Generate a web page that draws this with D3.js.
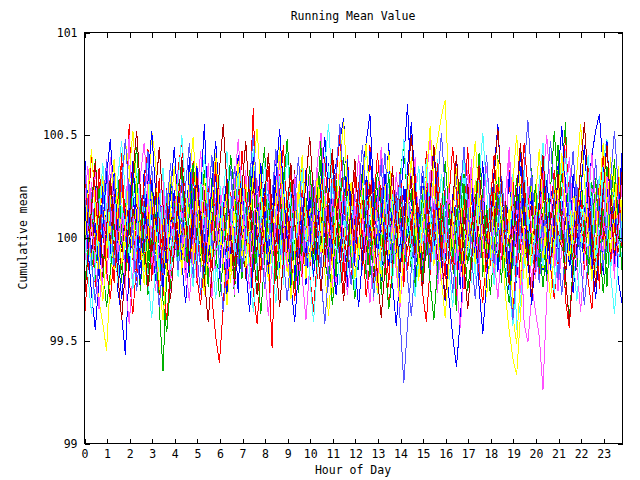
<!DOCTYPE html>
<html><head><meta charset="utf-8">
<script src="https://cdn.jsdelivr.net/npm/d3@7"></script>
<style>
body{margin:0;background:#fff}
text{font-family:"DejaVu Sans Mono",monospace;font-size:11.5px;fill:#000}
</style>
</head><body><svg id="c" width="640" height="480"></svg>
<script>
const title = "Running Mean Value";
const xLabel = "Hour of Day";
const yLabel = "Cumulative mean";
const xTicks = [0,1,2,3,4,5,6,7,8,9,10,11,12,13,14,15,16,17,18,19,20,21,22,23];
const yTicks = [99, 99.5, 100, 100.5, 101];
const yTickLabels = ["99", "99.5", "100", "100.5", "101"];
const xMax = 23 + 50/60;   // last sample at 23:50
const sampleMinutes = 10;

const s01 = [100.21,99.88,100.05,99.76,100.34,100.12,99.91,100.28,99.83,100.02,100.41,99.95,
100.55,100.08,99.79,100.19,99.87,100.30,99.98,100.11,99.72,100.06,100.24,99.89,
100.15,99.81,100.33,100.03,99.92,100.17,99.78,100.26,99.94,100.09,99.85,100.38,
99.99,100.13,99.74,100.22,100.01,99.86,100.29,99.97,100.18,100.63,100.04,99.82,
100.25,99.90,99.46,100.07,100.31,99.96,100.14,99.77,100.20,99.93,100.36,100.00,
99.84,100.16,99.80,100.27,100.05,99.88,100.40,99.95,100.10,99.73,100.23,99.98,
100.32,99.87,100.12,99.91,100.45,100.02,99.79,100.19,99.86,100.08,100.35,99.94,
100.21,99.76,100.13,99.99,100.28,99.83,100.06,100.42,99.90,100.17,99.81,100.03,
100.24,99.97,100.11,99.69,100.30,100.04,99.88,100.20,99.92,100.37,99.85,100.09,
100.15,99.78,100.26,99.95,100.01,100.33,99.87,100.14,99.74,100.22,100.07,99.93,
100.18,99.82,100.39,100.00,99.89,100.25,99.96,100.12,99.80,100.29,100.05,99.91,
100.16,99.84,100.34,99.98,100.10,99.75,100.21,100.03,99.94,100.27,99.86,100.08];
const s02 = [100.02,100.18,99.85,99.97,100.26,99.80,100.09,99.93,100.31,100.04,99.78,100.14,
99.91,100.22,100.00,99.74,100.12,99.88,100.27,99.96,99.66,99.35,99.83,100.07,
100.19,99.90,100.35,99.99,99.81,100.24,100.06,99.87,100.16,99.76,100.29,99.95,
100.10,99.84,100.21,100.03,99.71,100.17,99.92,100.30,99.98,100.08,99.79,100.25,
100.44,99.97,100.13,99.86,100.05,100.32,99.89,100.20,99.75,100.01,100.15,99.82,
100.23,99.94,100.07,100.38,99.90,99.77,100.11,100.28,99.96,100.04,99.85,100.19,
99.93,100.12,100.33,99.80,100.09,99.95,100.24,99.72,100.02,100.17,99.88,100.06,
100.27,99.91,100.14,99.83,100.36,100.00,99.78,100.21,99.97,100.10,100.30,99.86,
100.05,100.22,99.92,99.64,100.13,100.31,99.87,100.08,99.99,100.25,99.81,100.16,
99.94,100.11,100.40,99.90,100.03,99.76,100.18,99.98,100.26,99.85,100.07,100.34,
99.89,100.15,100.01,99.79,100.23,99.93,100.09,100.32,100.56,99.96,100.12,99.84,
100.20,99.91,100.05,100.27,99.82,100.14,99.97,100.35,100.02,99.88,100.18,99.95];
const s03 = [100.38,100.12,99.90,100.25,99.81,100.07,100.30,99.95,100.16,99.74,99.62,99.43,
99.85,100.20,100.03,99.88,100.33,99.97,100.11,99.79,100.24,100.06,99.92,100.28,
100.01,99.86,100.17,99.94,100.39,100.10,99.83,100.22,100.55,100.08,99.91,100.19,
99.80,100.14,100.29,99.96,100.05,99.73,100.21,100.02,99.89,100.35,99.98,100.12,
100.26,99.87,100.09,100.42,99.95,100.18,99.84,100.04,100.31,99.90,100.13,99.77,
100.07,100.24,99.93,100.15,99.82,100.36,100.00,99.88,100.20,100.10,99.76,100.27,
99.97,100.11,99.85,100.30,100.05,99.91,100.23,99.79,100.14,100.46,100.02,99.89,
100.17,100.38,100.65,100.20,99.94,100.08,99.81,100.26,100.03,99.92,100.33,99.99,
100.12,99.86,100.21,100.04,99.75,100.15,99.97,100.29,99.88,100.10,100.37,99.93,
100.06,100.25,99.83,100.13,99.96,100.32,100.01,99.78,100.19,99.90,100.07,100.24,
99.95,100.14,99.84,100.28,100.09,99.91,100.35,100.02,99.80,100.16,99.98,100.22,
100.04,99.87,100.30,100.11,99.93,100.19,99.82,100.26,100.00,99.89,100.13,100.41];
const s04 = [99.83,100.06,100.27,99.92,100.14,99.77,100.38,100.01,99.88,100.20,99.95,100.09,
100.46,100.12,99.85,100.24,99.98,100.31,99.81,100.04,100.17,99.90,100.10,99.74,
100.22,99.96,100.13,99.87,100.29,100.02,99.79,100.18,99.93,100.36,100.07,99.84,
100.11,100.25,99.91,100.05,99.72,100.19,99.99,100.33,99.86,100.08,100.15,99.94,
100.03,99.80,100.21,100.40,99.97,100.12,99.89,100.26,100.06,99.75,100.16,99.92,
100.30,100.00,99.83,100.14,100.23,99.90,100.09,99.78,100.35,99.96,100.11,100.04,
99.87,100.18,100.01,99.93,100.27,99.69,100.13,100.05,99.82,100.21,99.98,100.32,
100.08,99.88,100.17,99.95,100.39,100.03,99.86,100.24,99.91,100.10,99.73,100.19,
100.02,100.28,99.94,100.12,99.81,100.06,100.33,99.97,100.15,99.85,100.22,99.90,
100.14,99.79,100.07,100.25,99.92,100.44,100.00,99.84,100.18,99.96,100.09,99.77,
99.64,99.52,99.26,99.71,100.05,99.88,100.21,100.03,99.93,100.30,99.82,100.12,
99.99,100.17,99.87,100.24,100.06,99.91,100.36,99.95,100.11,99.80,100.20,100.02];
const s05 = [99.72,99.94,100.17,99.86,100.08,100.29,99.91,100.03,99.80,100.22,100.11,99.89,
100.15,99.97,100.34,100.06,99.83,100.19,99.95,100.10,100.27,99.78,100.04,100.16,
99.92,100.25,100.01,99.85,100.13,100.37,99.96,100.09,99.82,100.20,99.98,100.07,
100.31,99.90,100.14,100.02,99.76,100.23,100.05,99.93,100.18,100.43,99.99,100.12,
99.87,100.21,99.95,100.08,100.30,99.81,100.15,99.97,100.26,100.03,99.89,100.17,
100.06,99.79,100.24,100.00,99.92,100.35,100.10,99.84,100.13,99.96,100.28,100.04,
99.94,100.16,99.88,100.22,100.07,99.75,100.19,100.01,99.90,100.32,99.98,100.11,
100.27,99.86,100.09,99.97,100.14,99.80,100.23,100.05,99.93,100.17,100.38,99.91,
100.02,100.20,99.84,100.13,99.95,100.29,100.06,99.78,100.18,99.99,100.10,99.87,
100.24,100.04,99.92,100.15,99.70,100.08,100.31,99.96,100.12,99.85,100.21,100.00,
99.89,100.16,100.03,99.94,100.26,99.82,100.11,100.36,99.97,100.07,99.79,100.19,
100.05,99.93,100.22,99.86,100.14,100.30,99.98,100.09,99.83,100.25,100.01,99.90];
const s06 = [100.28,100.10,99.87,100.04,99.69,99.58,99.45,99.80,100.12,99.95,100.21,100.47,
100.33,100.06,99.91,100.18,99.84,100.25,100.00,99.93,100.14,99.77,100.09,100.30,
99.96,100.11,99.82,100.20,100.03,99.89,100.36,99.98,100.15,99.85,100.07,100.24,
99.92,100.13,100.01,99.78,100.27,99.94,100.08,100.19,99.86,100.32,99.99,100.05,
100.22,99.88,100.16,99.97,100.41,100.02,99.83,100.12,99.91,100.26,100.06,99.80,
100.17,99.95,100.09,100.29,99.87,100.04,99.73,100.20,99.98,100.13,100.34,99.90,
100.03,100.23,99.85,100.10,99.96,100.18,100.00,99.81,100.27,99.93,100.06,100.15,
99.88,100.12,100.30,99.97,100.05,99.79,100.21,100.08,99.92,100.37,100.48,100.59,
100.67,100.24,99.94,100.11,99.86,100.19,100.02,99.90,100.28,99.98,100.07,99.84,
100.16,99.93,100.22,100.04,99.72,99.55,99.41,99.33,99.62,99.88,100.09,100.25,
99.97,100.13,99.85,100.20,100.06,99.91,100.33,100.01,99.87,100.17,99.95,100.10,
100.27,99.89,100.04,100.15,99.82,100.21,99.99,100.12,100.39,99.94,100.07,100.18];
const s07 = [100.09,99.90,100.22,100.01,99.84,100.16,99.97,100.31,100.05,99.88,100.13,99.79,
100.26,100.04,99.93,100.19,99.86,100.10,100.35,99.98,100.07,99.82,100.23,100.00,
99.91,100.14,100.28,99.95,100.06,99.77,100.18,100.02,99.89,100.25,99.96,100.11,
100.03,99.85,100.20,100.09,99.94,100.33,99.81,100.15,100.00,99.92,100.27,100.06,
99.97,100.17,99.88,100.04,100.24,99.90,100.12,99.83,100.30,100.01,99.95,100.19,
100.08,99.93,100.26,99.99,100.14,99.76,100.05,100.21,99.89,100.11,100.36,99.96,
100.02,100.18,99.84,100.07,99.97,100.29,100.03,99.87,100.16,99.94,100.09,100.22,
99.61,99.29,99.58,99.85,100.12,99.98,100.25,100.04,99.91,100.17,99.80,100.06,
100.19,99.95,100.10,100.32,99.88,100.03,99.93,100.21,100.07,99.82,100.14,99.99,
100.08,100.26,99.90,100.13,100.00,99.86,100.23,99.97,100.11,100.34,99.92,100.05,
99.84,100.15,100.02,99.94,100.20,100.09,99.78,100.16,99.96,100.28,100.04,99.89,
100.12,99.98,100.24,100.06,99.87,100.19,100.01,99.93,100.30,100.08,99.85,100.14];
const s08 = [99.88,100.14,100.02,99.93,100.24,99.81,100.10,100.29,99.96,100.05,99.84,100.18,
100.07,99.91,100.20,100.00,99.87,100.13,99.79,100.26,100.03,99.95,100.16,99.90,
100.11,100.31,99.94,100.06,99.83,100.19,100.01,99.92,100.23,99.86,100.09,100.15,
99.98,100.04,100.27,99.89,100.12,99.95,100.07,99.80,100.21,100.02,99.93,100.17,
100.10,99.85,100.03,100.25,99.97,100.14,99.90,100.08,100.33,99.94,100.00,99.87,
100.19,100.05,99.92,100.12,99.84,100.22,100.01,99.96,100.15,99.88,100.28,100.04,
99.95,100.09,100.18,99.91,100.03,99.78,100.13,100.24,99.99,100.06,99.86,100.20,
100.02,99.93,100.11,100.30,99.97,100.08,99.89,100.16,100.04,99.92,100.23,99.98,
100.07,100.19,99.88,100.01,100.14,99.95,100.26,100.03,99.85,100.10,99.96,100.12,
99.90,100.05,100.21,99.97,100.09,99.83,100.17,100.00,99.94,100.27,100.06,99.91,
100.13,99.99,100.08,99.87,100.22,100.04,99.93,100.15,99.81,100.11,100.02,99.95,
100.18,99.92,100.06,100.01,99.86,100.24,99.98,100.10,99.90,100.14,100.03,99.88];
const s09 = [99.58,99.82,100.11,99.95,100.27,100.03,99.86,100.19,99.78,100.08,100.32,99.97,
100.13,99.89,100.06,100.24,99.92,100.15,99.80,100.01,100.29,99.94,100.10,99.85,
100.20,100.04,99.90,100.16,99.99,100.37,99.87,100.07,99.93,100.22,99.71,99.52,
99.39,99.66,99.98,100.12,99.88,100.25,100.03,99.95,100.18,99.84,100.09,100.30,
99.96,100.14,100.01,99.81,100.21,99.93,100.06,100.35,99.90,100.11,99.79,100.17,
100.04,99.92,100.26,100.08,99.86,100.13,99.97,100.22,100.02,99.83,100.40,100.09,
99.91,100.16,99.99,100.27,99.85,100.05,100.19,99.94,100.10,99.76,100.23,100.01,
100.14,99.87,100.06,99.96,100.31,100.03,99.90,100.17,99.82,100.08,100.25,99.95,
100.11,100.00,99.84,100.20,99.93,100.13,100.44,100.05,99.89,100.16,99.97,100.07,
99.86,100.22,100.02,99.92,100.15,99.80,100.28,100.04,99.95,100.12,99.88,100.19,
100.06,99.91,100.24,99.98,100.09,100.33,99.87,100.14,99.69,99.56,99.85,100.03,
100.21,99.94,100.11,99.83,100.07,100.26,99.99,100.16,99.90,100.04,100.30,99.96];
const s10 = [100.05,99.91,100.13,99.80,100.24,100.02,99.94,100.17,99.87,100.09,99.98,100.21,
99.88,100.07,100.30,99.93,100.15,99.82,100.04,100.19,99.96,100.11,99.78,100.26,
100.01,99.89,100.16,100.06,99.84,100.22,99.97,100.10,100.33,99.92,100.04,99.86,
100.18,100.00,99.90,100.13,99.79,100.27,100.05,99.95,100.12,99.83,100.21,100.02,
99.93,100.16,100.07,99.85,100.20,99.98,100.11,99.74,100.24,100.03,99.91,100.14,
100.06,99.87,100.19,100.47,100.08,99.94,100.17,99.81,100.05,100.22,99.96,100.10,
99.99,100.25,99.89,100.12,100.01,99.83,100.18,99.95,100.09,100.31,99.92,100.04,
100.15,99.86,100.07,100.23,99.97,100.12,99.80,100.03,100.19,99.90,100.10,99.98,
100.21,100.05,99.93,100.14,99.87,100.26,100.00,99.84,100.11,99.96,100.17,100.06,
99.91,100.13,100.02,99.78,100.20,99.95,100.08,100.29,99.88,100.04,99.97,100.15,
100.09,99.85,100.24,100.01,99.93,100.16,100.45,100.12,99.90,100.06,99.82,100.19,
99.97,100.10,99.87,100.22,100.03,99.92,100.14,99.76,100.08,100.27,99.94,100.05];
const s11 = [100.44,100.18,99.93,100.07,99.82,100.25,100.01,99.89,100.32,100.06,99.95,100.14,
99.86,100.21,100.03,99.77,100.12,99.98,100.28,100.09,99.90,100.17,99.84,100.05,
100.23,99.96,100.11,99.80,100.36,100.04,99.92,100.19,100.00,99.87,100.14,100.30,
99.94,100.08,99.83,100.20,100.02,99.91,100.26,99.97,100.13,100.39,100.05,99.88,
100.16,99.93,100.10,100.29,99.85,100.07,99.99,100.22,99.79,100.12,100.03,99.92,
100.19,100.06,99.88,100.15,100.01,99.90,100.27,100.36,100.47,100.58,100.24,99.97,
100.09,99.84,100.33,100.46,100.60,100.21,99.95,100.12,100.03,99.86,100.18,100.07,
99.93,100.25,100.00,100.14,99.81,100.09,100.30,99.96,100.11,99.89,100.20,100.02,
99.92,99.71,99.52,99.37,99.60,99.88,100.13,100.04,99.91,100.23,100.06,99.85,
100.17,100.00,99.94,100.28,100.08,99.87,100.15,99.98,100.35,100.03,99.90,100.21,
100.05,99.95,100.12,99.82,100.26,100.01,99.93,100.18,100.09,99.86,100.31,100.04,
99.96,100.14,100.25,100.40,100.52,100.60,100.33,100.07,99.89,100.16,99.79,99.68];
const s12 = [100.20,99.86,100.09,100.36,99.97,100.13,99.80,100.04,100.24,99.91,100.15,99.99,
100.50,100.11,99.88,100.06,99.93,100.21,100.02,99.84,100.17,100.31,99.95,100.08,
99.90,100.14,100.03,99.79,100.22,99.96,100.10,100.27,99.87,100.05,99.98,100.19,
100.01,99.85,100.16,100.07,99.92,100.30,99.99,100.12,99.82,100.24,100.04,99.94,
100.13,100.28,99.89,100.06,100.18,99.83,100.02,99.96,100.21,100.09,99.87,100.15,
99.98,100.11,100.34,99.92,100.05,99.80,100.19,100.00,99.91,100.26,100.08,99.85,
100.16,99.97,100.10,99.88,100.23,100.03,99.76,100.14,99.94,100.07,100.29,99.99,
100.04,99.90,100.20,100.12,99.86,100.02,100.17,99.95,100.33,100.06,99.89,100.11,
99.93,100.24,100.01,99.84,100.15,99.98,100.09,100.38,99.92,100.13,100.03,99.81,
100.19,100.05,99.90,100.22,99.97,100.11,99.87,100.16,100.04,99.58,99.49,99.72,
100.08,100.27,99.94,100.12,100.00,99.85,100.20,99.96,100.43,100.10,99.91,100.15,
99.99,100.06,100.32,99.88,100.14,100.02,99.93,100.19,100.07,99.83,100.25,100.01];
const s13 = [100.12,100.00,99.84,100.21,99.95,100.08,100.27,99.89,100.03,99.78,100.16,100.05,
99.92,100.23,100.10,99.87,100.14,100.39,99.96,100.06,99.83,100.18,100.01,99.94,
100.09,99.81,100.20,100.02,99.93,100.15,99.86,100.26,100.04,99.97,100.12,99.79,
100.24,100.07,99.90,100.13,99.98,100.31,100.02,99.85,100.17,99.93,100.08,100.20,
99.88,100.04,100.15,99.96,100.10,99.77,100.22,100.06,99.91,100.18,100.40,99.99,
100.11,99.94,100.05,100.23,99.86,100.14,100.01,99.92,100.28,100.09,99.82,100.16,
100.03,100.19,99.89,100.07,100.25,99.95,100.12,99.84,100.06,99.99,100.21,100.10,
99.90,100.14,100.04,99.87,100.18,100.35,99.97,100.08,100.22,99.93,100.01,100.13,
99.85,100.06,100.17,99.98,100.27,100.03,99.91,100.12,99.80,100.15,100.05,99.94,
100.21,99.97,100.09,100.30,99.89,100.02,100.16,99.55,99.68,99.92,100.10,100.04,
99.96,100.13,99.86,100.07,100.24,99.93,100.11,100.00,99.88,100.19,100.06,99.98,
100.15,100.02,99.91,100.20,99.84,100.08,100.37,100.48,100.12,99.95,100.09,99.87];
const s14 = [99.96,100.18,100.05,99.88,100.11,100.30,99.93,100.07,99.84,100.20,100.02,99.95,
100.14,99.90,100.22,100.03,99.86,100.16,100.52,100.38,99.99,100.09,99.81,100.13,
100.06,100.25,99.92,100.01,100.17,99.87,100.10,99.97,100.29,100.04,99.89,100.15,
99.94,100.08,100.21,99.83,100.12,100.00,99.91,100.26,100.05,99.96,100.14,99.86,
100.19,100.03,99.95,100.11,99.80,100.24,100.07,99.92,100.16,99.98,100.33,100.02,
99.87,100.13,100.04,99.93,100.20,100.09,99.85,100.17,100.01,99.94,100.12,100.27,
100.00,99.89,100.15,100.06,99.82,100.22,99.97,100.10,100.31,99.91,100.05,99.84,
100.18,100.02,99.93,100.13,100.07,99.88,100.24,99.99,100.11,99.86,100.19,100.04,
99.95,100.16,100.08,99.90,100.21,99.98,100.12,100.03,99.87,100.26,100.06,99.92,
100.11,99.85,100.19,100.01,99.94,100.14,99.62,99.48,99.80,100.07,100.23,99.97,
100.05,100.17,99.90,100.09,99.83,100.28,100.02,99.96,100.13,99.89,100.20,100.06,
99.98,100.12,100.03,99.91,100.22,100.08,99.85,100.16,100.00,100.34,99.93,100.10];
const s15 = [100.27,99.97,100.10,99.85,100.19,100.04,99.92,100.13,100.30,99.88,100.06,99.98,
100.15,100.03,99.81,100.22,99.95,100.09,100.01,99.87,100.18,100.06,99.93,100.24,
99.99,100.12,100.05,99.90,100.28,99.96,100.14,99.83,100.07,100.21,99.94,100.02,
100.17,99.92,100.08,100.35,100.00,99.86,100.20,100.05,99.97,100.13,99.84,100.10,
100.01,100.23,99.94,100.07,99.89,100.16,100.03,99.98,100.25,99.91,100.12,100.04,
99.93,100.18,100.06,99.85,100.14,99.99,100.29,100.02,99.90,100.11,100.05,99.96,
100.21,100.08,99.88,100.16,100.00,99.93,100.12,100.38,99.97,100.04,99.83,100.19,
100.06,99.95,100.24,100.02,99.87,100.14,100.09,99.91,100.20,99.99,100.11,99.86,
100.13,100.01,99.92,100.18,100.05,99.81,100.15,99.98,100.08,100.27,99.94,100.03,
99.89,100.12,100.22,99.96,100.07,100.01,99.85,100.19,100.04,99.93,100.16,100.32,
100.02,99.90,100.11,100.05,99.97,100.21,99.88,100.09,100.14,99.95,100.03,100.26,
99.92,100.17,100.04,99.86,100.13,100.00,100.25,99.94,100.08,100.18,99.97,100.06];
const s16 = [100.00,100.09,99.91,100.16,100.04,99.87,100.12,99.97,100.21,100.02,99.93,100.06,
99.96,100.14,100.05,99.89,100.19,100.01,99.92,100.10,100.03,99.85,100.17,100.08,
100.11,99.94,100.02,100.20,99.90,100.07,99.98,100.13,99.88,100.04,100.24,99.95,
100.06,100.15,99.93,100.03,99.86,100.18,100.01,99.96,100.10,100.27,99.99,100.05,
99.91,100.12,100.04,99.97,100.22,100.00,99.89,100.14,100.06,99.94,100.09,100.17,
100.03,99.92,100.11,100.02,99.84,100.16,100.07,99.98,100.25,100.01,99.90,100.12,
99.97,100.08,100.19,99.93,100.05,99.99,100.14,100.03,99.87,100.11,100.06,99.95,
100.20,100.01,99.94,100.09,99.91,100.15,100.04,100.23,99.96,100.07,99.89,100.12,
100.02,99.95,100.17,100.06,99.92,100.10,99.98,100.04,100.21,99.88,100.13,100.00,
100.08,100.14,99.90,100.03,100.18,99.97,100.06,99.93,100.11,100.02,99.86,100.16,
99.99,100.05,100.12,99.94,100.08,100.19,100.01,99.95,100.10,100.04,99.91,100.13,
100.06,99.98,100.15,100.02,99.89,100.11,100.05,99.96,100.20,100.07,99.93,100.03];
const s17 = [100.31,100.12,100.40,100.22,99.98,100.15,99.84,99.70,99.92,100.18,100.36,100.08,
99.79,99.63,99.88,100.05,100.28,100.43,100.17,99.94,100.11,99.76,99.60,99.85,
100.09,100.33,100.47,100.21,99.97,100.14,99.81,99.67,99.90,100.24,100.02,100.38,
100.16,99.89,99.72,99.95,100.26,100.07,100.42,100.19,99.93,99.74,99.58,99.83,
100.12,100.35,100.04,99.86,100.21,100.45,100.13,99.91,99.69,99.97,100.23,100.06,
99.82,99.64,99.90,100.17,100.39,100.10,99.87,100.29,100.50,100.20,99.96,99.78,
100.03,100.27,99.99,99.71,99.88,100.14,100.41,100.18,99.92,99.66,99.85,100.08,
100.32,100.11,99.84,100.02,100.25,99.95,99.73,99.59,99.86,100.13,100.36,100.05,
99.80,100.19,100.44,100.22,99.98,99.75,100.01,100.28,100.09,99.83,99.68,99.94,
100.16,100.40,100.12,99.89,100.07,99.77,99.62,99.91,100.20,100.46,100.24,99.97,
99.81,100.04,100.30,100.08,99.86,99.70,99.96,100.23,100.49,100.15,99.90,100.11,
100.34,100.02,99.79,99.65,99.93,100.18,100.42,100.10,99.88,100.06,100.27,99.99];
const s18 = [99.74,99.92,100.16,100.38,100.10,99.87,99.66,99.83,100.07,100.29,100.05,99.80,
100.02,100.26,100.44,100.15,99.91,99.72,99.95,100.19,99.97,99.69,99.54,99.78,
100.04,100.31,100.09,99.85,100.12,100.36,100.18,99.93,99.76,100.00,100.23,99.96,
99.71,99.88,100.14,100.40,100.21,99.98,99.80,100.06,100.33,100.11,99.86,99.63,
99.89,100.17,100.03,99.79,99.96,100.24,100.48,100.20,99.94,99.73,99.99,100.13,
100.35,100.08,99.84,100.01,100.27,99.92,99.67,99.87,100.15,100.39,100.10,99.90,
99.70,99.95,100.22,100.04,99.81,100.09,100.32,100.14,99.88,99.65,99.82,100.06,
100.30,100.45,100.17,99.93,99.75,99.98,100.21,100.02,99.78,99.60,99.86,100.12,
100.37,100.13,99.89,100.05,100.28,99.99,99.74,99.91,100.16,100.41,100.19,99.95,
99.72,99.94,100.20,100.07,99.83,99.68,99.90,100.18,100.43,100.11,99.87,100.03,
100.26,99.97,99.76,99.96,100.23,100.52,100.25,100.00,99.79,99.61,99.85,100.10,
100.33,100.06,99.82,100.01,100.29,99.98,99.73,99.92,100.17,100.38,100.09,99.84];
const s19 = [100.22,99.96,99.73,99.55,99.80,100.05,100.30,100.48,100.19,99.94,99.70,99.90,
100.14,100.37,100.09,99.85,100.03,100.27,100.52,100.23,99.97,99.76,99.98,100.21,
100.44,100.16,99.88,99.68,99.91,100.12,100.35,100.06,99.83,100.02,100.25,100.47,
100.18,99.93,99.71,99.94,100.17,100.40,100.11,99.86,99.64,99.89,100.13,100.36,
100.08,99.82,100.04,100.29,100.53,100.24,99.99,99.77,99.59,99.84,100.10,100.33,
100.05,99.81,100.01,100.26,100.49,100.20,99.95,99.72,99.92,100.15,100.38,100.10,
99.87,99.66,99.90,100.14,100.42,100.17,99.92,100.07,100.31,100.04,99.78,99.57,
99.83,100.09,100.34,100.56,100.26,100.00,99.75,99.96,100.19,100.43,100.13,99.88,
99.69,99.93,100.16,100.39,100.12,99.86,100.03,100.28,100.01,99.76,99.53,99.79,
100.06,100.32,100.55,100.22,99.97,99.74,99.95,100.18,100.41,100.14,99.89,99.67,
99.91,100.15,100.37,100.08,99.84,100.05,100.30,100.54,100.25,99.98,99.73,99.94,
100.20,100.45,100.16,99.90,99.70,99.96,100.23,100.47,100.12,99.87,100.08,100.36];
const s20 = [100.12,100.35,100.08,99.86,99.65,99.88,100.14,100.39,100.16,99.92,100.10,99.78,
99.58,99.82,100.05,100.30,100.46,100.19,99.95,99.74,99.97,100.21,100.02,99.80,
100.07,100.33,100.11,99.87,99.69,99.94,100.18,100.42,100.15,99.90,99.71,99.96,
100.24,100.03,99.79,99.99,100.26,100.48,100.20,99.93,99.75,100.01,100.28,100.06,
99.83,99.62,99.87,100.13,100.37,100.09,99.85,100.04,100.31,100.05,99.81,99.60,
99.86,100.11,100.36,100.51,100.23,99.98,99.76,99.95,100.19,99.97,99.72,99.91,
100.17,100.40,100.13,99.89,99.68,99.92,100.16,100.44,100.18,99.94,100.08,99.84,
99.66,99.90,100.14,100.38,100.10,99.88,100.02,100.27,100.49,100.21,99.96,99.77,
99.99,100.22,100.03,99.78,99.56,99.82,100.06,100.32,100.12,99.87,100.09,100.35,
100.14,99.91,99.70,99.95,100.20,100.43,100.16,99.93,99.73,99.98,100.25,100.04,
99.80,100.01,100.28,100.50,100.22,99.97,99.74,99.94,100.18,100.39,100.11,99.86,
99.64,99.89,100.15,100.41,100.17,99.92,100.05,100.30,100.07,99.83,100.02,100.26];
const s21 = [100.05,99.82,99.63,99.87,100.13,100.36,100.10,99.88,100.04,100.29,100.47,100.21,
99.96,99.75,99.99,100.24,100.03,99.79,99.61,99.85,100.11,100.34,100.08,99.84,
100.02,100.27,100.50,100.22,99.97,99.76,99.93,100.18,100.40,100.14,99.90,99.70,
99.94,100.19,100.42,100.15,99.91,100.06,100.30,100.07,99.83,99.64,99.88,100.12,
100.37,100.11,99.87,99.68,99.92,100.17,100.41,100.16,99.93,100.08,100.33,100.05,
99.81,99.59,99.84,100.10,100.35,100.55,100.26,100.00,99.77,99.96,100.20,99.98,
99.74,99.95,100.21,100.45,100.17,99.94,99.72,99.97,100.23,100.02,99.78,100.01,
100.25,100.48,100.19,99.95,99.71,99.90,100.14,100.38,100.12,99.89,100.06,100.31,
100.09,99.85,99.66,99.91,100.16,100.39,100.13,99.88,100.04,100.28,100.51,100.24,
99.98,99.77,99.96,100.21,100.01,99.76,99.57,99.83,100.09,100.33,100.10,99.86,
100.03,100.26,100.46,100.18,99.93,99.73,99.95,100.19,100.42,100.15,99.92,99.69,
99.93,100.17,100.40,100.13,99.90,100.07,100.32,100.06,99.82,99.63,99.87,100.11];
const s22 = [99.94,100.20,100.43,100.15,99.90,99.69,99.92,100.17,100.38,100.10,99.86,100.05,
100.30,100.52,100.24,99.98,99.77,99.99,100.22,100.01,99.78,99.60,99.86,100.12,
100.35,100.08,99.84,100.03,100.28,100.49,100.19,99.94,99.72,99.95,100.18,100.41,
100.13,99.89,99.67,99.90,100.16,100.37,100.09,99.85,100.06,100.31,100.53,100.25,
100.00,99.79,99.97,100.21,100.44,100.16,99.92,99.70,99.93,100.19,100.40,100.12,
99.88,100.04,100.29,100.07,99.83,99.62,99.87,100.13,100.36,100.56,100.27,100.01,
99.80,99.98,100.23,100.46,100.18,99.95,99.73,99.96,100.20,100.42,100.14,99.91,
99.68,99.93,100.17,100.39,100.11,99.87,100.05,100.30,100.54,100.26,100.02,99.80,
99.61,99.86,100.10,100.34,100.07,99.82,100.00,100.25,100.47,100.19,99.94,99.71,
99.92,100.16,100.38,100.11,99.88,100.04,100.27,100.50,100.22,99.97,99.75,99.95,
100.18,100.43,100.15,99.91,99.70,99.94,100.19,100.41,100.13,99.89,100.06,100.32,
100.55,100.28,100.02,99.79,99.98,100.22,100.46,100.17,99.93,100.09,100.35,100.08];
const s23 = [100.40,100.14,99.89,99.68,99.91,100.15,100.37,100.10,99.86,100.02,100.26,100.48,
100.20,99.95,99.74,99.96,100.19,100.42,100.13,99.88,99.66,99.89,100.14,100.36,
100.08,99.84,100.01,100.25,100.46,100.18,99.93,99.72,99.94,100.17,100.40,100.12,
99.87,99.64,99.88,100.12,100.35,100.07,99.83,100.03,100.27,100.50,100.21,99.97,
99.75,99.97,100.20,100.43,100.15,99.90,99.69,99.92,100.16,100.39,100.11,99.86,
100.04,100.28,100.06,99.81,99.58,99.83,100.08,100.32,100.55,100.25,99.99,99.77,
99.98,100.22,100.45,100.17,99.92,99.71,99.93,100.18,100.41,100.13,99.89,100.07,
100.31,100.05,99.80,99.62,99.86,100.11,100.35,100.09,99.84,100.02,100.27,100.51,
100.23,99.96,99.73,99.95,100.20,100.44,100.16,99.91,99.70,99.94,100.18,100.40,
100.12,99.87,100.06,100.30,100.08,99.82,99.60,99.85,100.10,100.34,100.57,100.27,
100.01,99.78,99.99,100.23,100.47,100.19,99.94,99.72,99.95,100.19,100.42,100.14,
99.90,99.67,99.90,100.15,100.38,100.10,99.85,100.04,100.29,100.52,100.24,99.98];
const s24 = [99.67,99.90,100.14,100.37,100.09,99.85,100.04,100.29,100.06,99.82,99.60,99.84,
100.08,100.31,100.52,100.23,99.98,99.76,99.97,100.21,100.44,100.16,99.91,99.70,
99.93,100.17,100.39,100.11,99.86,100.05,100.30,100.04,99.80,99.59,99.83,100.09,
100.33,100.55,100.26,100.00,99.77,99.99,100.24,100.47,100.18,99.94,99.72,99.95,
100.19,100.41,100.13,99.88,99.66,99.89,100.13,100.36,100.08,99.84,100.03,100.28,
100.49,100.21,99.96,99.74,99.96,100.20,100.43,100.15,99.90,99.69,99.92,100.16,
100.38,100.10,99.86,100.01,100.26,100.05,99.81,99.61,99.85,100.11,100.34,100.07,
99.83,100.02,100.27,100.50,100.22,99.97,99.75,99.96,100.21,100.45,100.17,99.92,
99.70,99.93,100.17,100.40,100.12,99.87,99.65,99.88,100.12,100.35,100.08,99.85,
100.04,100.29,100.53,100.24,99.99,99.77,99.98,100.22,100.46,100.18,99.93,99.71,
99.94,100.18,100.40,100.12,99.88,100.06,100.31,100.05,99.81,99.58,99.84,100.10,
100.34,100.56,100.26,100.00,99.76,99.97,100.22,100.45,100.15,99.91,100.07,100.32];

const seriesList = [s01,s02,s03,s04,s05,s06,s07,s08,s09,s10,s11,s12,
                    s13,s14,s15,s16,s17,s18,s19,s20,s21,s22,s23,s24];
const palette = ["#ff0000","#00b000","#0000ff","#ff50ff","#50ffff","#ffff00","#5555ff","#b00000"];

const W = 640, H = 480;
const m = {left: 84, right: 18, top: 32, bottom: 37};
const svg = d3.select("#c");
const x = d3.scaleLinear().domain([0, xMax]).range([m.left, W - m.right]);
const y = d3.scaleLinear().domain([99, 101]).range([H - m.bottom, m.top]);

// lines
const line = d3.line()
  .x((d, i) => x(i * sampleMinutes / 60))
  .y(d => y(d));
svg.append("g").attr("shape-rendering", "crispEdges")
  .selectAll("path").data(seriesList).join("path")
  .attr("d", line)
  .attr("fill", "none")
  .attr("stroke", (d, i) => palette[i % palette.length])
  .attr("stroke-width", 1);

// frame
svg.append("rect")
  .attr("x", x(0) + 0.5).attr("y", y(101) + 0.5)
  .attr("width", x(xMax) - x(0)).attr("height", y(99) - y(101))
  .attr("fill", "none").attr("stroke", "#000").attr("shape-rendering", "crispEdges");

function style(g) {
  g.select(".domain").remove();
  g.selectAll("line").attr("stroke", "#000").attr("shape-rendering", "crispEdges");
  g.selectAll("text").attr("fill", "#000")
    .style("font-family", '"DejaVu Sans Mono",monospace').style("font-size", "11.5px");
}

svg.append("g").attr("transform", `translate(0.5,${y(99) + 0.5})`)
  .call(d3.axisBottom(x).tickValues(xTicks).tickFormat(d3.format("d")).tickSize(-5).tickPadding(6))
  .call(style);
svg.append("g").attr("transform", `translate(0.5,${y(101) + 0.5})`)
  .call(d3.axisTop(x).tickValues(xTicks).tickFormat("").tickSize(-5))
  .call(style);
svg.append("g").attr("transform", `translate(${x(0) + 0.5},0.5)`)
  .call(d3.axisLeft(y).tickValues(yTicks).tickFormat((d, i) => yTickLabels[i]).tickSize(-5).tickPadding(7))
  .call(style);
svg.append("g").attr("transform", `translate(${x(xMax) + 0.5},0.5)`)
  .call(d3.axisRight(y).tickValues(yTicks).tickFormat("").tickSize(-5))
  .call(style);

svg.append("text").attr("x", (x(0) + x(xMax)) / 2).attr("y", 20)
  .attr("text-anchor", "middle").text(title);
svg.append("text").attr("x", (x(0) + x(xMax)) / 2).attr("y", 474)
  .attr("text-anchor", "middle").text(xLabel);
svg.append("text").attr("transform", `translate(27,${(y(99) + y(101)) / 2}) rotate(-90)`)
  .attr("text-anchor", "middle").text(yLabel);
</script>
</body></html>
